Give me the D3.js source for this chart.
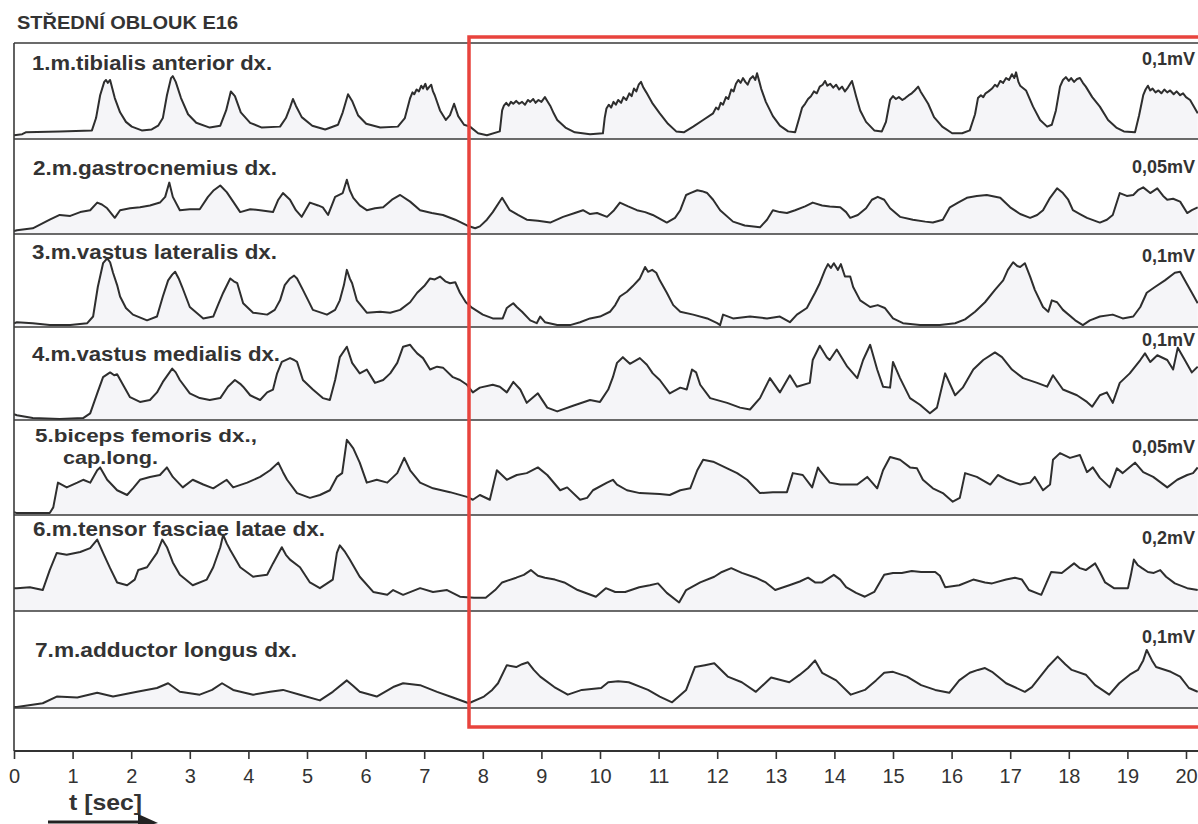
<!DOCTYPE html>
<html>
<head>
<meta charset="utf-8">
<title>Střední oblouk E16 – EMG</title>
<script src="https://cdn.jsdelivr.net/npm/d3@7"></script>
<style>
  html, body { margin: 0; padding: 0; background: #fff; }
  svg { display: block; }
</style>
</head>
<body>
<script>
// ---- Chart text -----------------------------------------------------------
const chartTitle = "STŘEDNÍ OBLOUK E16";
const channelNames = [
  ["1.m.tibialis anterior dx."],
  ["2.m.gastrocnemius dx."],
  ["3.m.vastus lateralis dx."],
  ["4.m.vastus medialis dx."],
  ["5.biceps femoris dx.,", "cap.long."],
  ["6.m.tensor fasciae latae dx."],
  ["7.m.adductor longus dx."]
];
const channelScales = ["0,1mV", "0,05mV", "0,1mV", "0,1mV", "0,05mV", "0,2mV", "0,1mV"];
const timeTicks = [0,1,2,3,4,5,6,7,8,9,10,11,12,13,14,15,16,17,18,19,20];
const timeLabel = "t [sec]";

// ---- Envelopes: [time s, level % of channel full scale] -------------------
const ch1 = [[0,4],[0.14,5],[0.2,7],[0.78,8],[1.33,9],[1.40,22],[1.47,46],[1.54,60],[1.57,62],[1.60,59],[1.64,62],[1.72,43],[1.81,28],[1.91,18],[2.01,13],[2.18,9],[2.35,10],[2.46,14],[2.54,22],[2.61,46],[2.68,64],[2.71,66],[2.76,60],[2.85,43],[2.97,26],[3.11,17],[3.34,12],[3.52,14],[3.62,30],[3.70,50],[3.77,45],[3.87,28],[4.03,17],[4.23,12],[4.54,13],[4.64,22],[4.71,33],[4.76,42],[4.81,35],[4.91,23],[5.09,14],[5.31,10],[5.53,15],[5.61,28],[5.70,47],[5.77,40],[5.87,25],[6.01,16],[6.25,12],[6.55,13],[6.67,22],[6.76,43],[6.80,49],[6.83,47],[6.87,52],[6.91,50],[6.95,56],[6.98,53],[7.02,58],[7.05,52],[7.09,55],[7.12,57],[7.15,50],[7.18,46],[7.27,30],[7.37,20],[7.44,25],[7.51,37],[7.58,24],[7.68,15],[7.78,13],[7.92,6],[8.07,4],[8.29,8],[8.33,30],[8.36,35],[8.40,38],[8.44,35],[8.48,39],[8.52,37],[8.57,40],[8.62,37],[8.67,39],[8.72,36],[8.77,41],[8.81,39],[8.86,42],[8.90,38],[8.95,41],[9.00,39],[9.06,44],[9.10,40],[9.15,35],[9.21,27],[9.27,20],[9.41,12],[9.57,7],[9.83,5],[10.05,6],[10.08,22],[10.11,32],[10.15,36],[10.19,33],[10.23,39],[10.27,36],[10.31,41],[10.36,38],[10.40,44],[10.45,41],[10.50,48],[10.54,45],[10.58,53],[10.62,50],[10.66,57],[10.70,60],[10.74,54],[10.79,49],[10.89,38],[11.02,27],[11.16,16],[11.30,8],[11.43,7],[11.59,13],[11.76,20],[11.93,27],[11.98,33],[12.02,31],[12.06,38],[12.10,36],[12.15,44],[12.19,42],[12.24,52],[12.28,50],[12.32,58],[12.36,62],[12.40,59],[12.44,64],[12.48,60],[12.52,57],[12.56,63],[12.61,66],[12.65,62],[12.68,69],[12.72,60],[12.75,53],[12.83,39],[12.95,24],[13.07,14],[13.21,8],[13.33,7],[13.40,22],[13.45,33],[13.50,37],[13.55,42],[13.60,45],[13.65,50],[13.70,48],[13.75,55],[13.80,57],[13.84,61],[13.88,56],[13.93,58],[13.98,54],[14.03,57],[14.08,52],[14.13,55],[14.18,50],[14.23,54],[14.27,58],[14.30,61],[14.34,52],[14.37,45],[14.44,30],[14.54,18],[14.68,9],[14.81,8],[14.88,18],[14.95,41],[15.00,45],[15.05,42],[15.10,44],[15.16,41],[15.21,43],[15.27,46],[15.32,48],[15.37,51],[15.43,55],[15.47,50],[15.51,46],[15.60,37],[15.70,23],[15.84,13],[16.01,6],[16.18,6],[16.31,9],[16.40,26],[16.45,43],[16.50,46],[16.54,44],[16.58,48],[16.63,50],[16.69,53],[16.74,57],[16.78,55],[16.83,61],[16.88,59],[16.93,64],[16.98,62],[17.03,68],[17.07,64],[17.10,70],[17.14,60],[17.17,56],[17.27,51],[17.39,34],[17.51,20],[17.63,13],[17.71,15],[17.78,30],[17.85,55],[17.90,62],[17.95,65],[18.00,61],[18.04,64],[18.09,60],[18.14,63],[18.19,64],[18.24,59],[18.29,55],[18.40,44],[18.53,34],[18.67,20],[18.81,12],[18.94,8],[19.13,7],[19.20,25],[19.27,46],[19.31,52],[19.35,56],[19.39,51],[19.43,53],[19.48,49],[19.53,51],[19.58,48],[19.63,52],[19.68,49],[19.73,51],[19.79,47],[19.84,50],[19.90,46],[19.95,48],[20.00,44],[20.07,41],[20.2,27]];

const ch2 = [[0,3],[0.05,4],[0.32,6],[0.61,15],[0.78,20],[0.96,19],[1.13,23],[1.30,25],[1.42,33],[1.50,31],[1.59,27],[1.72,17],[1.81,25],[1.98,27],[2.15,28],[2.32,30],[2.49,33],[2.58,39],[2.65,54],[2.71,39],[2.83,25],[3.00,26],[3.17,26],[3.31,39],[3.41,46],[3.52,51],[3.63,44],[3.74,34],[3.86,23],[4.03,26],[4.20,25],[4.42,23],[4.51,36],[4.59,43],[4.71,36],[4.81,25],[4.91,18],[5.05,33],[5.19,30],[5.27,28],[5.36,20],[5.48,39],[5.61,43],[5.68,57],[5.73,46],[5.79,38],[5.90,30],[6.02,25],[6.16,27],[6.30,28],[6.45,36],[6.59,41],[6.76,34],[6.93,25],[7.13,22],[7.32,20],[7.53,15],[7.73,9],[7.87,6],[7.95,8],[8.07,15],[8.17,23],[8.33,38],[8.46,25],[8.60,20],[8.75,15],[8.94,14],[9.15,12],[9.37,18],[9.57,22],[9.71,25],[9.83,21],[9.95,22],[10.12,18],[10.24,25],[10.34,33],[10.48,29],[10.63,25],[10.77,23],[10.90,20],[11.14,12],[11.28,17],[11.37,25],[11.47,41],[11.54,43],[11.66,46],[11.74,45],[11.83,43],[11.93,36],[12.05,25],[12.27,13],[12.47,9],[12.73,7],[12.85,15],[12.95,25],[13.07,23],[13.19,22],[13.33,25],[13.50,29],[13.63,33],[13.79,30],[13.92,29],[14.10,28],[14.20,23],[14.27,17],[14.40,20],[14.54,27],[14.64,36],[14.74,39],[14.85,36],[14.95,27],[15.12,18],[15.34,15],[15.55,13],[15.68,12],[15.85,15],[15.97,28],[16.11,33],[16.26,38],[16.43,40],[16.60,41],[16.83,38],[17.00,28],[17.17,21],[17.34,17],[17.46,20],[17.56,25],[17.68,38],[17.80,48],[17.90,43],[17.99,36],[18.07,25],[18.19,21],[18.31,17],[18.53,12],[18.65,15],[18.75,20],[18.87,43],[18.99,40],[19.10,41],[19.18,46],[19.27,49],[19.39,43],[19.51,48],[19.61,40],[19.68,36],[19.78,37],[19.90,34],[20.02,22],[20.10,25],[20.20,28]];

const ch3 = [[0,4],[0.05,5],[0.32,4],[0.61,2],[0.96,2],[1.25,4],[1.35,11],[1.43,42],[1.52,67],[1.59,72],[1.64,68],[1.69,57],[1.76,44],[1.81,32],[1.91,20],[2.03,13],[2.27,7],[2.44,11],[2.54,32],[2.63,49],[2.70,55],[2.75,58],[2.81,51],[2.87,42],[3.00,21],[3.23,9],[3.40,11],[3.48,23],[3.57,36],[3.69,51],[3.75,48],[3.81,46],[3.91,25],[4.08,15],[4.32,13],[4.45,18],[4.54,28],[4.62,44],[4.71,51],[4.78,54],[4.83,51],[4.93,39],[5.02,28],[5.10,18],[5.34,13],[5.48,18],[5.56,28],[5.63,44],[5.68,60],[5.73,51],[5.77,46],[5.85,28],[6.02,15],[6.25,16],[6.42,15],[6.59,18],[6.76,26],[6.88,36],[7.00,43],[7.10,51],[7.18,50],[7.27,53],[7.36,48],[7.44,46],[7.53,47],[7.61,36],[7.71,26],[7.82,20],[8.00,13],[8.17,9],[8.34,9],[8.41,20],[8.52,25],[8.58,21],[8.67,16],[8.81,7],[8.92,4],[8.98,11],[9.06,5],[9.27,2],[9.49,2],[9.66,5],[9.83,9],[10.00,11],[10.17,16],[10.26,23],[10.34,32],[10.46,37],[10.56,43],[10.68,51],[10.77,63],[10.82,58],[10.89,60],[10.96,57],[11.02,49],[11.14,36],[11.25,23],[11.37,16],[11.59,13],[11.83,9],[12.00,4],[12.05,2],[12.10,13],[12.27,9],[12.56,11],[12.85,9],[13.07,11],[13.24,5],[13.36,13],[13.53,20],[13.67,36],[13.75,46],[13.84,60],[13.89,66],[13.94,62],[13.99,67],[14.06,60],[14.11,66],[14.18,53],[14.27,53],[14.32,42],[14.44,28],[14.61,21],[14.74,23],[14.86,20],[15.00,9],[15.17,4],[15.46,2],[15.80,2],[16.06,4],[16.23,8],[16.40,16],[16.57,26],[16.74,39],[16.88,49],[16.96,60],[17.05,68],[17.12,64],[17.17,63],[17.25,67],[17.34,53],[17.42,39],[17.56,21],[17.65,16],[17.71,28],[17.80,26],[17.90,18],[18.11,7],[18.24,2],[18.36,7],[18.53,11],[18.75,13],[18.92,9],[19.10,11],[19.22,21],[19.33,36],[19.47,42],[19.64,49],[19.81,57],[19.90,58],[19.98,49],[20.10,36],[20.20,25]];

const ch4 = [[0,6],[0.05,5],[0.32,2],[0.78,1],[1.18,2],[1.30,7],[1.42,28],[1.52,45],[1.64,50],[1.71,47],[1.76,48],[1.86,37],[1.98,24],[2.15,19],[2.32,21],[2.44,29],[2.54,40],[2.70,54],[2.76,50],[2.83,42],[3.00,28],[3.17,23],[3.34,21],[3.52,23],[3.65,35],[3.77,42],[3.86,38],[3.91,35],[4.03,26],[4.20,21],[4.32,29],[4.42,32],[4.49,49],[4.57,61],[4.71,65],[4.78,63],[4.83,61],[4.93,42],[5.10,32],[5.27,23],[5.39,21],[5.48,42],[5.56,66],[5.68,77],[5.77,60],[5.90,49],[6.02,53],[6.16,39],[6.30,42],[6.42,49],[6.54,60],[6.64,77],[6.76,79],[6.81,75],[6.88,70],[6.98,65],[7.10,53],[7.22,56],[7.32,55],[7.49,45],[7.61,42],[7.73,37],[7.83,29],[7.95,34],[8.17,37],[8.29,35],[8.41,29],[8.52,40],[8.64,32],[8.75,18],[8.94,28],[9.10,13],[9.27,9],[9.54,15],[9.83,21],[10.00,19],[10.14,32],[10.22,45],[10.29,60],[10.39,66],[10.51,59],[10.68,65],[10.80,58],[10.90,49],[11.02,42],[11.19,28],[11.37,34],[11.48,32],[11.57,53],[11.64,50],[11.71,37],[11.88,23],[12.17,18],[12.39,13],[12.56,11],[12.73,23],[12.90,44],[13.07,29],[13.24,47],[13.36,35],[13.58,39],[13.63,63],[13.75,78],[13.87,66],[13.92,63],[14.04,74],[14.22,56],[14.39,44],[14.49,63],[14.61,79],[14.73,53],[14.83,35],[14.95,34],[15.00,61],[15.12,44],[15.29,23],[15.46,16],[15.63,7],[15.75,13],[15.89,49],[16.06,26],[16.19,34],[16.37,53],[16.54,63],[16.74,71],[16.86,66],[17.03,53],[17.22,44],[17.46,39],[17.63,35],[17.73,47],[17.90,32],[18.14,26],[18.31,19],[18.40,14],[18.53,26],[18.65,29],[18.75,18],[18.87,39],[19.04,49],[19.22,63],[19.30,70],[19.39,61],[19.51,68],[19.68,63],[19.78,53],[19.86,76],[19.98,63],[20.10,50],[20.20,56]];

const ch5 = [[0,3],[0.05,2],[0.61,2],[0.67,8],[0.75,34],[0.90,29],[1.08,34],[1.18,37],[1.30,34],[1.42,47],[1.47,50],[1.59,37],[1.76,26],[1.93,21],[2.03,28],[2.15,37],[2.32,40],[2.49,42],[2.61,50],[2.71,40],[2.88,29],[3.05,37],[3.23,32],[3.40,28],[3.63,37],[3.74,29],[3.98,34],[4.20,40],[4.37,47],[4.51,55],[4.59,45],[4.66,37],[4.83,23],[5.05,18],[5.22,21],[5.39,26],[5.51,40],[5.60,44],[5.68,79],[5.73,75],[5.79,70],[5.90,55],[6.02,34],[6.19,37],[6.37,34],[6.54,44],[6.66,60],[6.76,47],[6.93,34],[7.15,28],[7.44,24],[7.73,19],[7.83,16],[7.95,21],[8.12,16],[8.24,47],[8.41,37],[8.58,42],[8.75,44],[8.94,50],[9.10,42],[9.32,26],[9.44,29],[9.66,16],[9.78,18],[9.88,26],[10.12,34],[10.22,37],[10.29,32],[10.46,26],[10.68,23],[11.02,22],[11.19,21],[11.37,26],[11.54,28],[11.66,47],[11.76,58],[11.93,56],[12.17,49],[12.34,44],[12.51,37],[12.73,23],[12.95,24],[13.19,24],[13.29,44],[13.46,42],[13.62,29],[13.72,50],[13.75,47],[13.92,34],[14.10,32],[14.39,32],[14.56,40],[14.73,28],[14.83,47],[14.95,61],[15.12,58],[15.29,50],[15.41,49],[15.51,37],[15.68,28],[15.85,23],[16.02,14],[16.14,18],[16.23,44],[16.43,40],[16.66,32],[16.79,42],[16.95,37],[17.17,32],[17.34,34],[17.42,40],[17.56,26],[17.68,32],[17.73,58],[17.85,65],[18.02,60],[18.19,63],[18.31,45],[18.41,50],[18.53,39],[18.70,29],[18.82,49],[18.92,44],[19.13,55],[19.27,45],[19.44,40],[19.68,29],[19.85,37],[20.02,42],[20.12,44],[20.20,50]];

const ch6 = [[0,24],[0.05,24],[0.27,25],[0.49,22],[0.61,43],[0.73,61],[0.90,59],[1.13,62],[1.30,66],[1.42,75],[1.52,61],[1.64,45],[1.76,30],[1.93,27],[2.06,33],[2.12,43],[2.27,46],[2.44,61],[2.53,75],[2.61,67],[2.71,51],[2.83,38],[3.05,27],[3.29,33],[3.40,46],[3.52,67],[3.57,80],[3.63,71],[3.69,64],[3.86,46],[4.08,36],[4.32,38],[4.42,50],[4.57,67],[4.64,59],[4.71,54],[4.88,46],[5.05,30],[5.22,24],[5.44,33],[5.51,61],[5.56,69],[5.65,62],[5.73,54],[5.90,36],[6.13,20],[6.37,17],[6.47,22],[6.64,17],[6.93,24],[7.15,20],[7.39,22],[7.61,15],[7.85,14],[8.05,14],[8.21,22],[8.33,30],[8.57,35],[8.70,38],[8.82,43],[8.94,37],[9.06,35],[9.23,33],[9.39,30],[9.62,22],[9.93,15],[10.10,24],[10.26,20],[10.43,20],[10.67,25],[10.85,27],[10.99,29],[11.14,19],[11.35,9],[11.47,22],[11.71,30],[11.95,36],[12.08,41],[12.24,45],[12.42,40],[12.66,35],[12.83,30],[12.99,22],[13.23,27],[13.41,31],[13.55,35],[13.67,30],[13.79,30],[13.99,38],[14.10,33],[14.20,25],[14.37,19],[14.52,15],[14.68,20],[14.85,38],[15.00,40],[15.15,40],[15.32,42],[15.48,41],[15.72,41],[15.80,37],[15.89,25],[16.13,27],[16.37,33],[16.57,30],[16.69,29],[16.93,33],[17.08,35],[17.20,33],[17.32,22],[17.53,17],[17.70,41],[17.88,40],[18.09,50],[18.19,45],[18.29,43],[18.45,50],[18.53,41],[18.62,30],[18.77,24],[19.01,24],[19.06,38],[19.11,54],[19.18,48],[19.25,45],[19.35,41],[19.45,40],[19.56,43],[19.66,36],[19.81,29],[20.02,24],[20.20,22]];

const ch7 = [[0,1],[0.05,1],[0.49,5],[0.73,12],[1.08,11],[1.42,16],[1.69,12],[2.10,17],[2.44,21],[2.63,26],[2.83,17],[3.17,14],[3.38,19],[3.55,26],[3.74,19],[4.08,14],[4.37,17],[4.59,19],[4.88,14],[5.22,8],[5.44,17],[5.68,29],[5.79,23],[5.90,17],[6.19,12],[6.47,22],[6.64,26],[6.93,24],[7.22,17],[7.49,11],[7.76,5],[8.02,12],[8.16,19],[8.26,26],[8.41,45],[8.57,43],[8.67,46],[8.77,48],[8.87,40],[8.98,33],[9.22,22],[9.45,14],[9.69,19],[10.02,21],[10.14,27],[10.31,28],[10.49,27],[10.82,19],[11.02,12],[11.23,6],[11.47,19],[11.62,43],[11.79,45],[11.95,47],[12.18,33],[12.42,27],[12.66,17],[12.92,32],[13.23,27],[13.41,35],[13.55,42],[13.67,50],[13.79,37],[14.03,29],[14.28,14],[14.52,19],[14.71,29],[14.85,37],[15.00,38],[15.24,33],[15.48,24],[15.72,19],[15.96,16],[16.13,29],[16.31,37],[16.45,40],[16.57,42],[16.69,38],[16.93,26],[17.25,17],[17.37,22],[17.64,43],[17.81,54],[17.94,46],[18.05,40],[18.29,35],[18.45,24],[18.69,14],[18.86,26],[19.04,35],[19.18,40],[19.27,50],[19.33,61],[19.42,50],[19.49,43],[19.74,38],[19.90,33],[20.05,21],[20.20,17]];

const channels = [ch1, ch2, ch3, ch4, ch5, ch6, ch7];

// ---- Layout ----------------------------------------------------------------
const W = 1198, H = 824;
const frameLeft = 14, frameRight = 1198;
const panelTops    = [43, 139, 234, 327, 420, 515, 611];
const panelBottoms = [139, 234, 327, 420, 515, 611, 708];
const fullScalePx = 95.2;
const axisY = 751;
const labelX = [32, 33, 32, 32, 35, 33, 35];
const labelBase = [70, 175, 259, 361, 442, 536, 657];
const labelWidth = [240, 244, 245, 248, 222, 292, 262];
const labelSize = [20, 20, 20, 20, 19, 20, 20];
const scaleBase = [65, 173, 262, 346, 453, 544, 643];
const ink = "#2e2e2e";
const textInk = "#333";

const svg = d3.select("body").append("svg")
  .attr("width", W).attr("height", H)
  .attr("viewBox", `0 0 ${W} ${H}`);

const x = d3.scaleLinear().domain([0, 20]).range([14, 1186]);

svg.append("defs").append("clipPath").attr("id", "traceClip")
  .append("rect").attr("x", frameLeft).attr("y", 0)
  .attr("width", frameRight - frameLeft).attr("height", H);

// ---- Title ---------------------------------------------------------------
svg.append("text")
  .attr("x", 17).attr("y", 29)
  .attr("font-family", "'Liberation Sans', Arial, sans-serif")
  .attr("font-weight", "bold").attr("font-size", 18)
  .attr("textLength", 221).attr("lengthAdjust", "spacingAndGlyphs")
  .attr("fill", textInk)
  .text(chartTitle);

// ---- Channel traces --------------------------------------------------------
const traces = svg.append("g").attr("clip-path", "url(#traceClip)");
channels.forEach((data, i) => {
  const bottom = panelBottoms[i];
  const y = d3.scaleLinear().domain([0, 100]).range([bottom, bottom - fullScalePx]);
  const area = d3.area().x(d => x(d[0])).y0(bottom).y1(d => y(d[1]));
  const line = d3.line().x(d => x(d[0])).y(d => y(d[1]));
  traces.append("path").datum(data)
    .attr("d", area).attr("fill", "#f5f5f8");
  traces.append("path").datum(data)
    .attr("d", line)
    .attr("fill", "none").attr("stroke", ink)
    .attr("stroke-width", 2).attr("stroke-linejoin", "round");
});

// ---- Panel frame -----------------------------------------------------------
const frame = svg.append("g").attr("stroke", "#3a3a3a").attr("stroke-width", 1.6);
[...panelTops, panelBottoms[panelBottoms.length - 1]].forEach(yy => {
  frame.append("line").attr("x1", frameLeft).attr("x2", frameRight)
    .attr("y1", yy).attr("y2", yy);
});
frame.append("line").attr("x1", frameLeft).attr("x2", frameLeft)
  .attr("y1", panelTops[0]).attr("y2", axisY);

// ---- Channel names and full-scale labels ----------------------------------
const labels = svg.append("g")
  .attr("font-family", "'Liberation Sans', Arial, sans-serif")
  .attr("font-weight", "bold").attr("fill", textInk);
channelNames.forEach((lines, i) => {
  labels.append("text")
    .attr("x", labelX[i]).attr("y", labelBase[i])
    .attr("font-size", labelSize[i])
    .attr("textLength", labelWidth[i]).attr("lengthAdjust", "spacingAndGlyphs")
    .text(lines[0]);
  if (lines[1]) {
    labels.append("text")
      .attr("x", 63).attr("y", labelBase[i] + 22)
      .attr("font-size", labelSize[i])
      .attr("textLength", 95).attr("lengthAdjust", "spacingAndGlyphs")
      .text(lines[1]);
  }
  labels.append("text")
    .attr("x", 1195).attr("y", scaleBase[i])
    .attr("text-anchor", "end").attr("font-size", 18)
    .text(channelScales[i]);
});

// ---- Time axis -------------------------------------------------------------
const axis = d3.axisBottom(x)
  .tickValues(timeTicks)
  .tickFormat(d3.format("d"))
  .tickSize(8).tickSizeOuter(0).tickPadding(10);
const gAxis = svg.append("g")
  .attr("transform", `translate(0,${axisY})`)
  .call(axis);
gAxis.select(".domain").remove();
gAxis.selectAll(".tick line").attr("stroke", "#333").attr("stroke-width", 1.6);
gAxis.selectAll(".tick text")
  .attr("font-family", "'Liberation Sans', Arial, sans-serif")
  .attr("font-size", 20).attr("fill", textInk);
svg.append("line")
  .attr("x1", frameLeft).attr("x2", frameRight)
  .attr("y1", axisY).attr("y2", axisY)
  .attr("stroke", "#333").attr("stroke-width", 1.8);

svg.append("text")
  .attr("x", 69).attr("y", 810)
  .attr("font-family", "'Liberation Sans', Arial, sans-serif")
  .attr("font-weight", "bold").attr("font-size", 22)
  .attr("textLength", 73).attr("lengthAdjust", "spacingAndGlyphs")
  .attr("fill", textInk)
  .text(timeLabel);

// direction arrow under the time label
svg.append("line")
  .attr("x1", 48).attr("x2", 146).attr("y1", 822).attr("y2", 822)
  .attr("stroke", "#222").attr("stroke-width", 3);
svg.append("path")
  .attr("d", "M138,814 L158,823 L138,828 Z")
  .attr("fill", "#222");

// ---- Highlighted section (8–20 s) ------------------------------------------
svg.append("rect")
  .attr("x", 469).attr("y", 37)
  .attr("width", 760).attr("height", 690)
  .attr("fill", "none")
  .attr("stroke", "#e8433d").attr("stroke-width", 3.5);
</script>
</body>
</html>
